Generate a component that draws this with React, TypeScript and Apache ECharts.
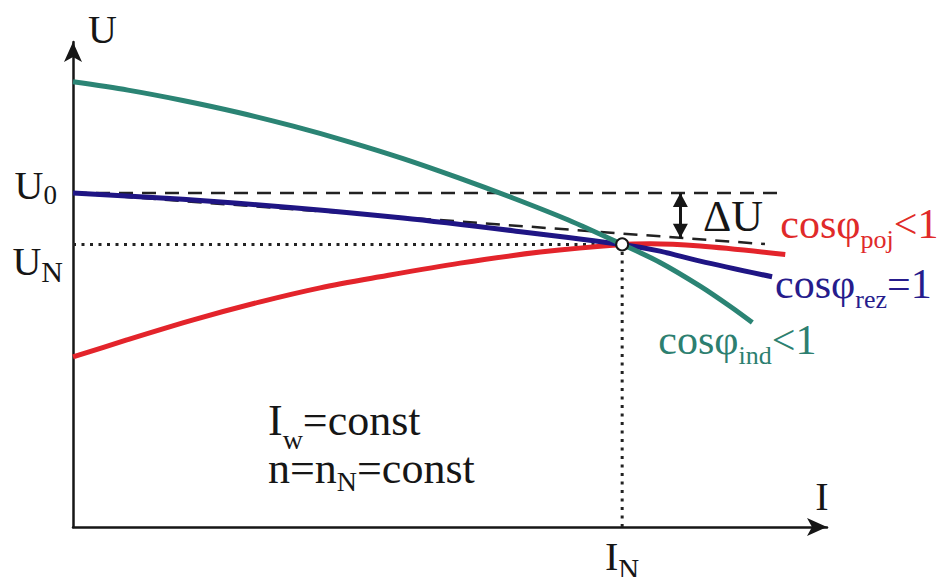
import React, { useEffect, useRef } from 'react';
import * as echarts from 'echarts';

const SERIF = "'Liberation Serif', 'Times New Roman', serif";
const INK = '#161616';
const RED = '#e3242b';
const BLUE = '#1f1584';
const TEAL = '#2b8474';
const RED_TXT = '#e02a2a';
const BLUE_TXT = '#261c8c';
const TEAL_TXT = '#2d7f70';

// values in per cent of rated current I_N and no-load voltage U_0
const I_N = 100;
const U_0 = 100;
const U_N = 84.6;
const I_AXIS_MAX = 137.3;
const U_AXIS_MAX = 145.2;

// cos phi ind < 1 (inductive load)
const I_IND = [0, 10.0, 20.0, 30.1, 40.1, 50.1, 60.1, 70.1, 80.1, 90.2, 100, 106.9, 114.2, 119.7, 123.7];
const U_IND = [133.3, 130.8, 127.7, 124.1, 120.0, 115.4, 110.3, 104.6, 98.5, 91.9, 84.6, 79.2, 72.1, 66.0, 61.2];

// cos phi rez = 1 (resistive load)
const I_REZ = [0, 20.0, 40.1, 60.1, 80.1, 100, 106.9, 114.2, 127.3];
const U_REZ = [100, 98.1, 95.6, 92.5, 88.7, 84.6, 82.6, 79.6, 74.9];

// cos phi poj < 1 (capacitive load)
const I_POJ = [0, 9.8, 21.9, 34.1, 45.0, 55.9, 70.5, 85.1, 100, 105.1, 114.2, 129.7];
const U_POJ = [50.9, 56.0, 62.0, 67.4, 71.6, 74.9, 79.0, 82.3, 84.6, 84.8, 84.1, 81.6];

// helper lines
const U0_LINE_I = [0, 128.2];
const TANGENT_I = [0, 126.0];
const TANGENT_U = [100, 84.7];
const DELTA_U_I = 110.6;

const Y_LABEL_U0 = [U_0];
const Y_LABEL_UN = [U_N];
const X_LABEL_VALUES = [I_N];

const C = 0.3375; // central baseline offset (em) of Liberation Serif
const HS = 8; // inner box height of subscript tokens

function mkRich(key: string, color: string, size: number, subSize: number, d: number, drop: number, mode: 'middle' | 'top' = 'middle', colorKey = 'color') {
  let P = 0, Q = 0;
  if (mode === 'middle') {
    const need = Math.max(0, drop + HS / 2 - C * subSize - 0.1625 * size);
    const diff = 2 * (d - C * size);
    Q = need; P = Q + diff;
    if (P < 0) { Q -= P; P = 0; }
  } else {
    P = Math.max(0, d - 0.8375 * size);
  }
  const ps = P + 0.8375 * size + drop - HS / 2 - C * subSize;
  return {
    ['m' + key]: { fontFamily: SERIF, fontSize: size, [colorKey]: color, verticalAlign: 'top', height: size, lineHeight: size + P + Q, padding: [P, 0, Q, 0] },
    ['s' + key]: { fontFamily: SERIF, fontSize: subSize, [colorKey]: color, verticalAlign: 'top', height: HS, lineHeight: HS + ps, padding: [ps, 0, 0, 0] },
  };
}

const pairs = (xs: number[], ys: number[]) => xs.map((x, i) => [x, ys[i]]);

export default function App() {
  const ref = useRef<HTMLDivElement>(null);
  useEffect(() => {
    if (!ref.current) return;
    const chart = echarts.init(ref.current, null, { renderer: 'svg' });
    const tangentAt = (i: number) => TANGENT_U[0] + (TANGENT_U[1] - TANGENT_U[0]) * (i - TANGENT_I[0]) / (TANGENT_I[1] - TANGENT_I[0]);
    const dashed = { type: [14, 9], width: 2.5, color: '#222' };
    const dotted = { type: [3, 5.5], width: 3, color: '#222' };
    const curveBase = { type: 'line', symbol: 'none', smooth: 0.3, silent: true };
    const hiddenAxisParts = { axisTick: { show: false }, splitLine: { show: false } };

    const option: any = {
      animation: false,
      backgroundColor: '#ffffff',
      grid: { left: 73, right: 118, top: 42, bottom: 50, containLabel: false, outerBoundsMode: 'none' },
      xAxis: {
        type: 'value', min: 0, max: I_AXIS_MAX,
        name: 'I', nameLocation: 'end', nameGap: -5,
        nameTextStyle: { fontFamily: SERIF, fontSize: 40, color: INK, align: 'center', verticalAlign: 'bottom', padding: [0, 0, 10.5, 0] },
        axisLine: { show: true, onZero: false, symbol: ['none', 'arrow'], symbolSize: [13.5, 20], lineStyle: { color: INK, width: 2.5 } },
        ...hiddenAxisParts,
        axisLabel: {
          show: true, margin: 4, customValues: X_LABEL_VALUES, hideOverlap: false,
          formatter: () => '{mc|I}{sc|N}',
          rich: mkRich('c', INK, 40, 29, 38.5, 9, 'top'),
        },
      },
      yAxis: [
        {
          type: 'value', min: 0, max: U_AXIS_MAX, position: 'left',
          name: 'U', nameLocation: 'end', nameGap: 12.5,
          nameTextStyle: { fontFamily: SERIF, fontSize: 40, color: INK, align: 'left', verticalAlign: 'middle', padding: [0, 0, 0, 15] },
          axisLine: { show: true, onZero: false, symbol: ['none', 'arrow'], symbolSize: [13.5, 20], lineStyle: { color: INK, width: 2.5 } },
          ...hiddenAxisParts,
          axisLabel: {
            show: true, margin: 16, customValues: Y_LABEL_U0, hideOverlap: false,
            formatter: () => '{ma|U}{sa|0}',
            rich: mkRich('a', INK, 40, 27, 6, 5),
          },
        },
        {
          type: 'value', min: 0, max: U_AXIS_MAX, position: 'left', offset: 0,
          axisLine: { show: false },
          ...hiddenAxisParts,
          axisLabel: {
            show: true, margin: 10, customValues: Y_LABEL_UN, hideOverlap: false,
            formatter: () => '{mb|U}{sb|N}',
            rich: mkRich('b', INK, 40, 30, 30.5, 7),
          },
        },
      ],
      series: [
        { type: 'line', symbol: 'none', silent: true, data: [[U0_LINE_I[0], U_0], [U0_LINE_I[1], U_0]], lineStyle: dashed, z: 1 },
        {
          type: 'line', symbol: 'none', silent: true, data: pairs(TANGENT_I, TANGENT_U), lineStyle: dashed, z: 1,
          markLine: {
            silent: true, symbol: ['triangle', 'triangle'], symbolSize: [15, 14], symbolOffset: [[0, 7], [0, 7]],
            label: { show: false },
            lineStyle: { type: 'solid', width: 3, color: INK },
            itemStyle: { color: INK },
            data: [[{ coord: [DELTA_U_I, U_0] }, { coord: [DELTA_U_I, tangentAt(DELTA_U_I)] }]],
          },
        },
        { type: 'line', symbol: 'none', silent: true, data: [[0, U_N], [I_N, U_N]], lineStyle: dotted, z: 1 },
        { type: 'line', symbol: 'none', silent: true, data: [[I_N, 0], [I_N, U_N]], lineStyle: dotted, z: 1 },
        {
          ...curveBase, name: 'poj', data: pairs(I_POJ, U_POJ), lineStyle: { color: RED, width: 5 }, z: 3,
          endLabel: { show: true, formatter: '{mr|cosφ}{sr|poj}{mr|<1}', align: 'left', verticalAlign: 'middle', distance: 0, offset: [-5, 0], rich: mkRich('r', RED_TXT, 42, 26, -16.3, 10) },
        },
        {
          ...curveBase, name: 'rez', data: pairs(I_REZ, U_REZ), lineStyle: { color: BLUE, width: 5 }, z: 4,
          endLabel: { show: true, formatter: '{mb|cosφ}{sb|rez}{mb|=1}', align: 'left', verticalAlign: 'middle', distance: 0, offset: [3, 0], rich: mkRich('b', BLUE_TXT, 42, 26, 21.3, 10) },
        },
        {
          ...curveBase, name: 'ind', data: pairs(I_IND, U_IND), lineStyle: { color: TEAL, width: 5 }, z: 5,
          endLabel: { show: true, formatter: '{mt|cosφ}{st|ind}{mt|<1}', align: 'left', verticalAlign: 'middle', distance: 0, offset: [-94, 0], rich: mkRich('t', TEAL_TXT, 42, 26, 32, 10) },
        },
        {
          type: 'scatter', silent: true, data: [[I_N, U_N]], symbol: 'circle', symbolSize: 12,
          itemStyle: { color: '#ffffff', opacity: 1, borderColor: INK, borderWidth: 2 }, z: 10,
        },
      ],
      graphic: [
        {
          type: 'text', x: 703, y: 231 - C * 44, silent: true,
          style: { text: 'ΔU', fontFamily: SERIF, fontSize: 44, fill: INK, align: 'left', verticalAlign: 'middle' },
        },
        {
          type: 'text', x: 268, y: 435 - 0.8375 * 44, silent: true,
          style: { text: '{mg|I}{sg|w}{mg|=const}', align: 'left', verticalAlign: 'top', rich: mkRich('g', INK, 44, 28, 0, 14, 'top', 'fill') },
        },
        {
          type: 'text', x: 268, y: 483 - 0.8375 * 44, silent: true,
          style: { text: '{mh|n=n}{sh|N}{mh|=const}', align: 'left', verticalAlign: 'top', rich: mkRich('h', INK, 44, 28, 0, 8, 'top', 'fill') },
        },
      ],
    };
    chart.setOption(option);
    return () => chart.dispose();
  }, []);
  return <div ref={ref} style={{ position: 'absolute', left: 0, top: 0, width: 945, height: 577, background: '#fff' }} />;
}
